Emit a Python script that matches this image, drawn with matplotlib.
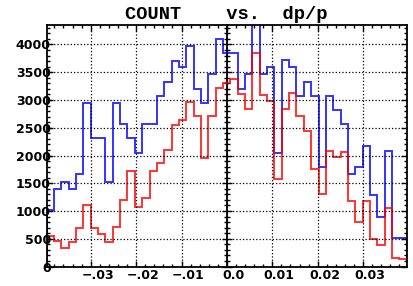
import numpy as np
import matplotlib.pyplot as plt
from matplotlib.ticker import MultipleLocator
from matplotlib.transforms import ScaledTranslation

# histogram range and bin count
x_lo: float = -0.0397
x_hi: float = 0.0396
n_bins: int = 49

# counts per bin
blue_counts = [1010, 1400, 1530, 1400, 1660, 2940, 2310, 2310, 1530, 2940,
               2560, 2310, 2050, 2560, 2560, 3070, 3330, 3710, 3590, 3970,
               3200, 2940, 3470, 4100, 3840, 3840, 3200, 3460, 4500, 3460,
               3590, 2050, 3720, 3590, 3080, 3330, 3080, 1800, 3070, 2820,
               2570, 1660, 1800, 2170, 1290, 890, 2090, 510, 510]
red_counts = [548, 464, 333, 440, 698, 1100, 698, 584, 440, 710,
              1196, 1712, 1076, 1232, 1712, 1874, 2108, 2552, 2636, 2972,
              2714, 1964, 2708, 3212, 3302, 3370, 3106, 2842, 3850, 3082,
              2986, 1568, 2830, 3118, 2708, 2440, 1754, 1310, 2090, 1970,
              2066, 1172, 800, 1178, 488, 386, 1058, 146, 128]

xticks = [-0.03, -0.02, -0.01, 0.0, 0.01, 0.02, 0.03]
xtick_labels = ['\u2212.03', '\u2212.02', '\u2212.01', '0.0', '0.01', '0.02', '0.03']
yticks = [0, 500, 1000, 1500, 2000, 2500, 3000, 3500, 4000]

edges = np.linspace(x_lo, x_hi, n_bins + 1)

fig = plt.figure(figsize=(4.13, 2.86), dpi=100)
ax = fig.add_axes([0.113, 0.068, 0.8717, 0.8445])

ax.stairs(blue_counts, edges, color='#0000ff', lw=1.4, alpha=0.8, baseline=0)
ax.stairs(red_counts, edges, color='#ff0000', lw=1.4, alpha=0.8, baseline=0)

ax.set_xlim(x_lo, x_hi)
ax.set_ylim(0, 4350)

ax.set_xticks(xticks)
ax.set_xticklabels(xtick_labels)
ax.set_yticks(yticks)
ax.xaxis.set_minor_locator(MultipleLocator(0.002))
ax.yaxis.set_minor_locator(MultipleLocator(100))

ax.tick_params(which='both', direction='in', top=True, right=True, width=1.0)
ax.tick_params(which='major', length=4)
ax.tick_params(which='minor', length=2)
ax.tick_params(axis='y', pad=-3)
ax.tick_params(axis='x', pad=2)
for lab in ax.get_xticklabels() + ax.get_yticklabels():
    lab.set_fontweight('bold')
    lab.set_fontsize(9)
# x labels sit a bit right of their ticks in the original
for lab in ax.get_xticklabels():
    lab.set_transform(lab.get_transform() + ScaledTranslation(5/72, 0, fig.dpi_scale_trans))

ax.grid(True, which='major', linestyle=':', color='black', linewidth=0.9)
for s in ax.spines.values():
    s.set_linewidth(1.3)

# second vertical axis at dp/p = 0, ticks only
mid = ax.secondary_yaxis((0 - x_lo) / (x_hi - x_lo))
mid.set_yticks(yticks)
mid.set_yticklabels([])
mid.yaxis.set_minor_locator(MultipleLocator(100))
mid.tick_params(which='both', direction='inout', labelleft=False, labelright=False, width=1.0)
mid.tick_params(which='major', length=7)
mid.tick_params(which='minor', length=4)
for s in mid.spines.values():
    s.set_linewidth(1.3)

ax.set_title('COUNT    vs.  dp/p', family='Liberation Mono', fontweight='bold',
             fontsize=13.5, pad=4)

fig.savefig('out.png', dpi=100)
